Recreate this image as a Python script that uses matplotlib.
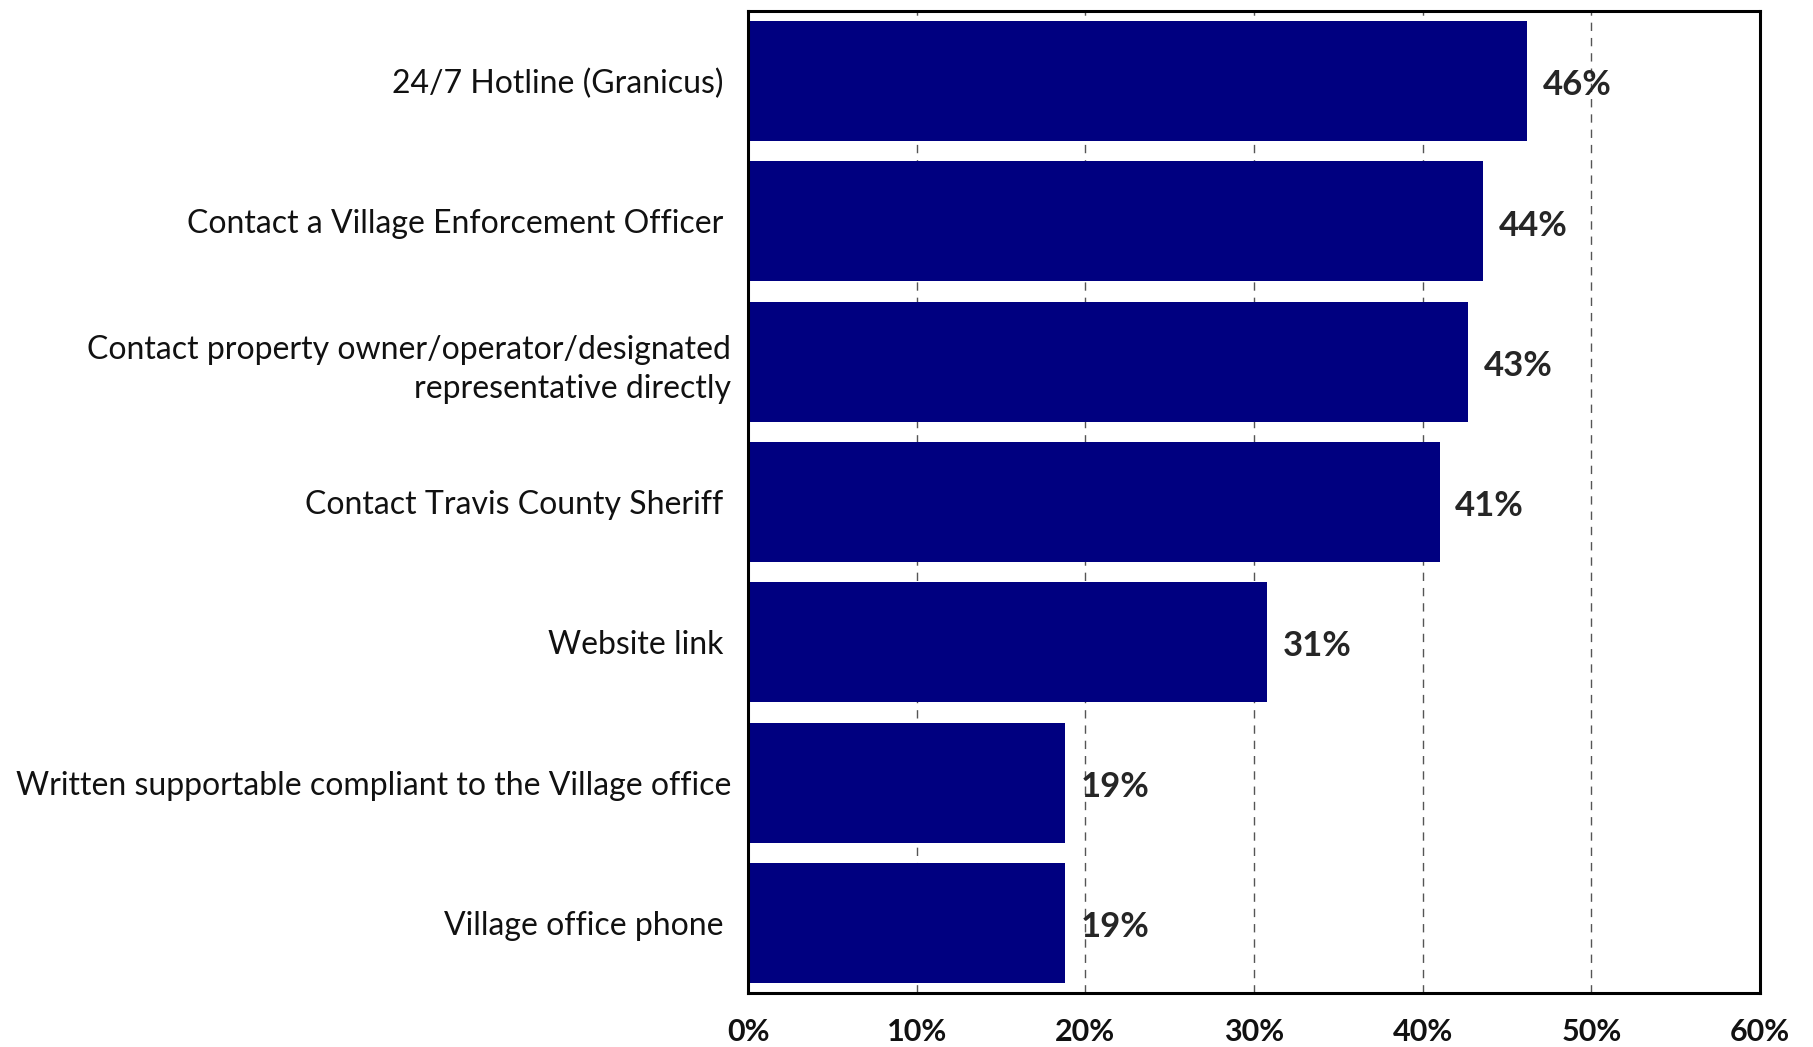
import matplotlib.pyplot as plt
from matplotlib.ticker import FuncFormatter

plt.rcParams['font.family'] = ['Lato', 'DejaVu Sans']

# survey options, top to bottom
options = [
    "24/7 Hotline (Granicus) ",
    "Contact a Village Enforcement Officer ",
    "Contact property owner/operator/designated\nrepresentative directly",
    "Contact Travis County Sheriff ",
    "Website link ",
    "Written supportable compliant to the Village office",
    "Village office phone ",
]
share = [46.2, 43.6, 42.7, 41.0, 30.8, 18.8, 18.8]
x_ticks = [0, 10, 20, 30, 40, 50, 60]

W, H = 1813, 1047
fig = plt.figure(figsize=(W / 100, H / 100), dpi=100)
ax = fig.add_axes([748 / W, (H - 993) / H, (1760 - 748) / W, (993 - 11) / H])

ypos = range(len(options))
ax.barh(ypos, share, height=0.855, color='#000080', zorder=2)
ax.set_ylim(len(options) - 0.5, -0.5)
ax.set_xlim(0, 60)

for y, v in zip(ypos, share):
    ax.text(v + 0.9, y + 0.03, f"{v:.0f}%", va='center', ha='left',
            fontsize=25, fontweight='bold', color='#262626')

ax.set_yticks(list(ypos))
ax.set_yticklabels(options, fontsize=23, color='#111111', linespacing=1.4)
ax.set_xticks(x_ticks)
ax.xaxis.set_major_formatter(FuncFormatter(lambda v, p: f"{v:.0f}%"))
for lab in ax.get_xticklabels():
    lab.set_fontweight('bold')
ax.tick_params(axis='x', length=0, pad=18, labelsize=22, labelcolor='#111111')
ax.tick_params(axis='y', length=0, pad=12)

ax.grid(axis='x', color='#555555', linestyle=(0, (6, 5)), linewidth=1.0, zorder=0)
ax.grid(axis='y', visible=False)
for s in ax.spines.values():
    s.set_linewidth(2.2)
    s.set_color('black')

fig.savefig('out.png', dpi=100, facecolor='white')
